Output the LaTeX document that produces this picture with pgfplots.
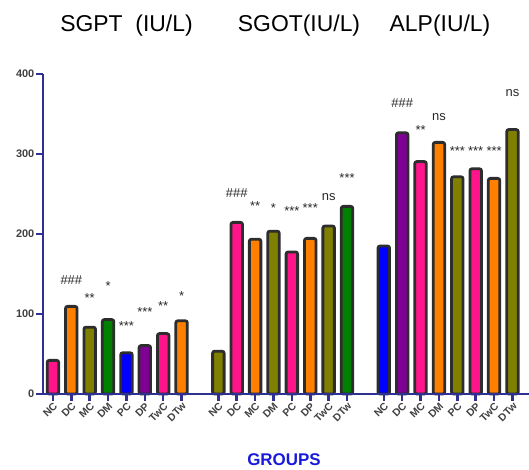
\documentclass[border=0pt]{standalone}
\usepackage{fontspec}
\setmainfont{Liberation Sans}
\usepackage{pgfplots}
\pgfplotsset{compat=1.18}
\definecolor{axisblue}{RGB}{46,49,146}
\definecolor{pinkc}{RGB}{255,20,140}
\definecolor{orangec}{RGB}{255,128,0}
\definecolor{olivec}{RGB}{128,128,0}
\definecolor{greenc}{RGB}{0,128,0}
\definecolor{bluec}{RGB}{0,0,255}
\definecolor{purplec}{RGB}{128,0,150}
\definecolor{barline}{RGB}{45,45,45}
\definecolor{labgray}{RGB}{64,64,64}
\definecolor{anngray}{RGB}{40,40,40}
\definecolor{groupblue}{RGB}{25,25,220}
\pgfplotsset{mybar/.style={ybar, bar shift=0pt, bar width=11.5bp, fill=#1, draw=barline, line width=2.8bp, rounded corners=2bp}}
\tikzset{ann/.style={font=\fontsize{13}{15}\selectfont, text=anngray, anchor=base, inner sep=0pt}}
\begin{document}
\begin{tikzpicture}
\useasboundingbox (0,0) rectangle (529bp,470bp);
\begin{axis}[
  at={(43bp,76bp)}, anchor=south west,
  scale only axis, width=486bp, height=320bp,
  xmin=-0.54, xmax=25.9, ymin=0, ymax=400,
  axis lines*=left,
  axis line style={draw=axisblue, line width=2.5bp},
  axis on top,
  clip=false,
  ytick={0,100,200,300,400},
  xtick={0,1,2,3,4,5,6,7,9,10,11,12,13,14,15,16,18,19,20,21,22,23,24,25},
  xticklabels={NC,DC,MC,DM,PC,DP,TwC,DTw,NC,DC,MC,DM,PC,DP,TwC,DTw,NC,DC,MC,DM,PC,DP,TwC,DTw},
  tick align=outside,
  major tick length=7bp,
  tick style={draw=axisblue, line width=2.5bp},
  /pgf/number format/assume math mode=true,
  yticklabel style={font=\fontsize{11}{13}\selectfont\bfseries, text=labgray, inner sep=1.5bp},
  xticklabel style={font=\fontsize{10.5}{12}\selectfont\bfseries, text=labgray, rotate=45, anchor=north east, inner sep=0.5bp},
]
% pink
\addplot[mybar=pinkc] coordinates {(0,42) (6,75.5) (10,214.5) (13,177.5) (20,290.5) (23,281.5)};
% orange
\addplot[mybar=orangec] coordinates {(1,109.5) (7,91.5) (11,193.5) (14,194.5) (21,314.5) (24,269.5)};
% olive
\addplot[mybar=olivec] coordinates {(2,83.5) (9,53.5) (12,203.5) (15,210) (22,271.5) (25,330.5)};
% green
\addplot[mybar=greenc] coordinates {(3,93) (16,234.5)};
% blue
\addplot[mybar=bluec] coordinates {(4,51.5) (18,185)};
% purple
\addplot[mybar=purplec] coordinates {(5,60.5) (19,326.5)};
% annotations group 1
\node[ann] at (axis cs:1,136.7) {\#\#\#};
\node[ann] at (axis cs:2,114.4) {**};
\node[ann] at (axis cs:3,129) {*};
\node[ann] at (axis cs:4,79) {***};
\node[ann] at (axis cs:5,96.5) {***};
\node[ann] at (axis cs:6,104.8) {**};
\node[ann] at (axis cs:7,116.5) {*};
% group 2
\node[ann] at (axis cs:10,245) {\#\#\#};
\node[ann] at (axis cs:11,229) {**};
\node[ann] at (axis cs:12,227) {*};
\node[ann] at (axis cs:13,222.7) {***};
\node[ann] at (axis cs:14,227) {***};
\node[ann] at (axis cs:15,242.4) {ns};
\node[ann] at (axis cs:16,264.4) {***};
% group 3
\node[ann] at (axis cs:19,357.6) {\#\#\#};
\node[ann] at (axis cs:20,324.8) {**};
\node[ann] at (axis cs:21,342.4) {ns};
\node[ann] at (axis cs:22,297.7) {***};
\node[ann] at (axis cs:23,297.7) {***};
\node[ann] at (axis cs:24,297.7) {***};
\node[ann] at (axis cs:25,371.6) {ns};
\end{axis}
\node[anchor=base, inner sep=0pt, font=\fontsize{23}{27}\selectfont] at (126.5bp,438bp) {SGPT\ \ (IU/L)};
\node[anchor=base, inner sep=0pt, font=\fontsize{23}{27}\selectfont] at (299bp,438bp) {SGOT(IU/L)};
\node[anchor=base, inner sep=0pt, font=\fontsize{23}{27}\selectfont] at (440bp,438bp) {ALP(IU/L)};
\node[anchor=base, inner sep=0pt, font=\fontsize{17}{20}\selectfont\bfseries, text=groupblue] at (284bp,4.5bp) {GROUPS};
\end{tikzpicture}
\end{document}
